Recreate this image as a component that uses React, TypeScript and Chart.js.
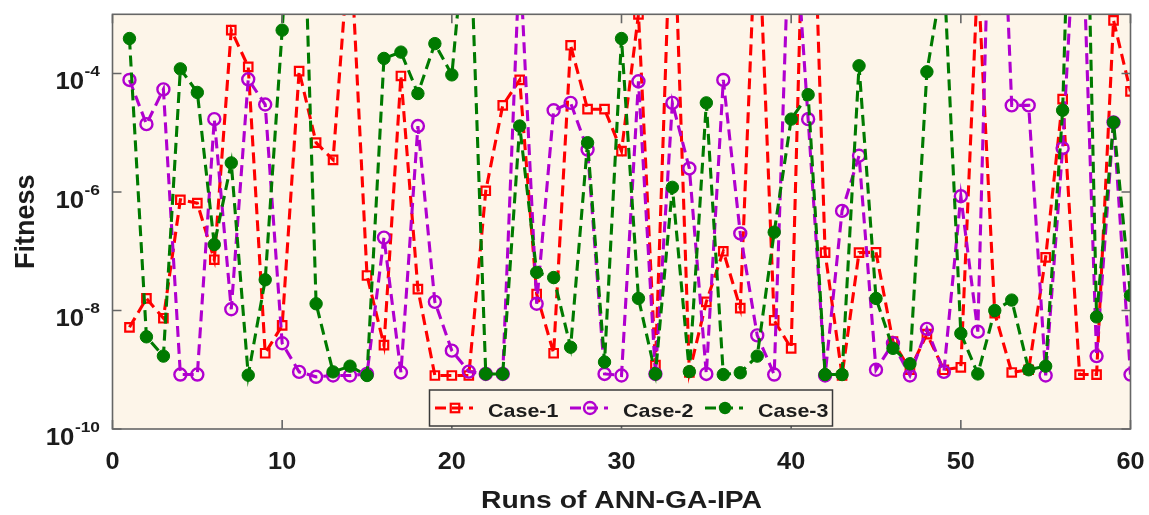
import React, { useEffect, useRef } from "react";
import { Chart, registerables } from "chart.js";

Chart.register(...registerables);

// Run index (x) and fitness of each run for the three cases (log-scale y).
const runs = [
  1, 2, 3, 4, 5, 6, 7, 8, 9, 10, 11, 12, 13, 14, 15, 16, 17, 18, 19, 20,
  21, 22, 23, 24, 25, 26, 27, 28, 29, 30, 31, 32, 33, 34, 35, 36, 37, 38, 39, 40,
  41, 42, 43, 44, 45, 46, 47, 48, 49, 50, 51, 52, 53, 54, 55, 56, 57, 58, 59, 60,
];

const case1 = [
  5.2e-9, 1.6e-8, 7.4e-9, 7.4e-7, 6.5e-7, 7.2e-8, 5.4e-4, 1.3e-4, 1.9e-9, 5.6e-9,
  1.1e-4, 6.8e-6, 3.5e-6, 2.2e-2, 3.9e-8, 2.6e-9, 9.1e-5, 2.3e-8, 8.0e-10, 8.0e-10,
  8.0e-10, 1.05e-6, 2.9e-5, 7.8e-5, 1.9e-8, 1.9e-9, 3.0e-4, 2.5e-5, 2.5e-5, 4.9e-6,
  1.0e-3, 1.2e-9, 3.0e-1, 9.0e-10, 1.4e-8, 1.0e-7, 1.1e-8, 1.2e-1, 6.8e-9, 2.3e-9,
  1.0e2, 9.5e-8, 8.0e-10, 9.5e-8, 9.6e-8, 3.0e-9, 1.0e-9, 4.0e-9, 1.0e-9, 1.1e-9,
  5.0e-3, 9.0e-9, 9.0e-10, 1.0e-9, 7.9e-8, 3.7e-5, 8.3e-10, 8.3e-10, 7.9e-4, 5.0e-5,
];

const case2 = [
  7.8e-5, 1.4e-5, 5.4e-5, 8.3e-10, 8.3e-10, 1.7e-5, 1.05e-8, 8.0e-5, 3.0e-5, 2.8e-9,
  9.2e-10, 7.6e-10, 8.0e-10, 8.0e-10, 8.5e-10, 1.7e-7, 9.0e-10, 1.3e-5, 1.4e-8, 2.1e-9,
  9.3e-10, 8.5e-10, 8.5e-10, 1.0e-2, 1.3e-8, 2.4e-5, 3.2e-5, 5.2e-6, 8.5e-10, 8.0e-10,
  7.4e-5, 8.5e-10, 3.2e-5, 2.5e-6, 8.5e-10, 7.8e-5, 2.0e-7, 3.8e-9, 8.3e-10, 3.0e-1,
  1.7e-5, 8.0e-10, 4.8e-7, 4.1e-6, 1.0e-9, 2.8e-9, 8.0e-10, 4.9e-9, 9.2e-10, 8.5e-7,
  4.4e-9, 3.0e2, 2.9e-5, 2.9e-5, 8.0e-10, 5.5e-6, 1.0, 1.7e-9, 1.5e-5, 8.3e-10,
];

const case3 = [
  3.9e-4, 3.6e-9, 1.7e-9, 1.2e-4, 4.8e-5, 1.3e-7, 3.1e-6, 8.1e-10, 3.3e-8, 5.4e-4,
  3.0e1, 1.3e-8, 9.2e-10, 1.15e-9, 8.0e-10, 1.8e-4, 2.3e-4, 4.6e-5, 3.2e-4, 9.5e-5,
  1.2e-1, 8.5e-10, 8.5e-10, 1.3e-5, 4.4e-8, 3.6e-8, 2.4e-9, 6.8e-6, 1.35e-9, 3.9e-4,
  1.6e-8, 8.5e-10, 1.2e-6, 9.3e-10, 3.2e-5, 8.3e-10, 8.9e-10, 1.7e-9, 2.1e-7, 1.7e-5,
  4.4e-5, 8.3e-10, 8.3e-10, 1.35e-4, 1.6e-8, 2.3e-9, 1.26e-9, 1.07e-4, 5.6e-3, 4.1e-9,
  8.5e-10, 1.0e-8, 1.5e-8, 1.0e-9, 1.15e-9, 2.4e-5, 1.0e5, 7.8e-9, 1.5e-5, 1.8e-8,
];

const seriesNames = ["Case-1", "Case-2", "Case-3"];

const xTickValues = [0, 10, 20, 30, 40, 50, 60];
const xTickLabels = ["0", "10", "20", "30", "40", "50", "60"];
const yTickValues = [1e-10, 1e-8, 1e-6, 1e-4];
const yTickExponents = ["-10", "-8", "-6", "-4"];

const xTitle = "Runs of ANN-GA-IPA";
const yTitle = "Fitness";

// Styling
const FONT = "'Liberation Sans', Arial, Helvetica, sans-serif";
const RED = "#FF0000";
const PURPLE = "#B000CF";
const GREEN = "#007A00";
const PLOT_BG = "#FDF5E9";
const FRAME = "#666666";
const INK = "#1c1c1c";
const DASH = [11, 6];
const LINE_W = 3.1;

const W = 1149;
const H = 515;

function wideText(
  ctx: CanvasRenderingContext2D,
  text: string,
  x: number,
  y: number,
  align: CanvasTextAlign,
  sx: number
) {
  ctx.save();
  ctx.translate(x, y);
  ctx.scale(sx, 1);
  ctx.textAlign = align;
  ctx.textBaseline = "alphabetic";
  ctx.fillText(text, 0, 0);
  ctx.restore();
}

function legendMarker(ctx: CanvasRenderingContext2D, kind: number, x: number, y: number) {
  ctx.save();
  ctx.setLineDash([]);
  if (kind === 0) {
    const s = 6 * Math.SQRT1_2;
    ctx.strokeStyle = RED;
    ctx.lineWidth = 2.2;
    ctx.strokeRect(x - s, y - s, 2 * s, 2 * s);
  } else if (kind === 1) {
    ctx.strokeStyle = PURPLE;
    ctx.lineWidth = 2.4;
    ctx.beginPath();
    ctx.arc(x, y, 6, 0, Math.PI * 2);
    ctx.stroke();
  } else {
    ctx.fillStyle = GREEN;
    ctx.beginPath();
    ctx.arc(x, y, 6.2, 0, Math.PI * 2);
    ctx.fill();
  }
  ctx.restore();
}

const decorPlugin = {
  id: "axesDecor",
  beforeDraw(chart: any) {
    const { ctx, chartArea: a } = chart;
    ctx.save();
    ctx.fillStyle = "#ffffff";
    ctx.fillRect(0, 0, chart.width, chart.height);
    ctx.fillStyle = PLOT_BG;
    ctx.fillRect(a.left, a.top, a.right - a.left, a.bottom - a.top);
    ctx.restore();
  },
  afterDatasetsDraw(chart: any) {
    const { ctx, chartArea: a } = chart;
    const xs = chart.scales.x;
    const ys = chart.scales.y;
    const tickLen = 9;

    ctx.save();
    // frame
    ctx.strokeStyle = FRAME;
    ctx.lineWidth = 1.6;
    ctx.setLineDash([]);
    ctx.strokeRect(a.left, a.top, a.right - a.left, a.bottom - a.top);

    // inward ticks
    ctx.beginPath();
    xTickValues.forEach((v) => {
      const px = xs.getPixelForValue(v);
      ctx.moveTo(px, a.bottom);
      ctx.lineTo(px, a.bottom - tickLen);
      ctx.moveTo(px, a.top);
      ctx.lineTo(px, a.top + tickLen);
    });
    yTickValues.forEach((v) => {
      const py = ys.getPixelForValue(v);
      ctx.moveTo(a.left, py);
      ctx.lineTo(a.left + tickLen, py);
      ctx.moveTo(a.right, py);
      ctx.lineTo(a.right - tickLen, py);
    });
    ctx.stroke();

    // x tick labels
    ctx.fillStyle = INK;
    ctx.font = `bold 23px ${FONT}`;
    xTickValues.forEach((v, i) => {
      wideText(ctx, xTickLabels[i], xs.getPixelForValue(v), a.bottom + 39.5, "center", 1.1);
    });

    // y tick labels: base 10 with raised exponent
    const labelRight = a.left - 12.5;
    yTickValues.forEach((v, i) => {
      const py = ys.getPixelForValue(v);
      ctx.font = `bold 15.5px ${FONT}`;
      const expW = ctx.measureText(yTickExponents[i]).width * 1.12;
      wideText(ctx, yTickExponents[i], labelRight, py + 2.5, "right", 1.12);
      ctx.font = `bold 23px ${FONT}`;
      wideText(ctx, "10", labelRight - expW - 0.5, py + 15.5, "right", 1.12);
    });

    // axis titles
    ctx.font = `bold 24px ${FONT}`;
    wideText(ctx, xTitle, (a.left + a.right) / 2, 508.3, "center", 1.18);
    ctx.save();
    ctx.font = `bold 27px ${FONT}`;
    ctx.translate(34, (a.top + a.bottom) / 2);
    ctx.rotate(-Math.PI / 2);
    ctx.scale(1, 1.05);
    ctx.textAlign = "center";
    ctx.textBaseline = "alphabetic";
    ctx.fillText(yTitle, 0, 0);
    ctx.restore();

    // legend
    const bx = 429.5, by = 390, bw = 403, bh = 36;
    ctx.fillStyle = PLOT_BG;
    ctx.fillRect(bx, by, bw, bh);
    ctx.strokeStyle = "#3a3a3a";
    ctx.lineWidth = 1.5;
    ctx.strokeRect(bx, by, bw, bh);
    const colors = [RED, PURPLE, GREEN];
    const cy = by + bh / 2;
    seriesNames.forEach((name, i) => {
      const x0 = 435 + i * 135;
      ctx.save();
      ctx.strokeStyle = colors[i];
      ctx.lineWidth = LINE_W;
      ctx.setLineDash(DASH);
      ctx.beginPath();
      ctx.moveTo(x0, cy);
      ctx.lineTo(x0 + 38, cy);
      ctx.stroke();
      ctx.restore();
      legendMarker(ctx, i, x0 + 20, cy);
      ctx.fillStyle = INK;
      ctx.font = `bold 19px ${FONT}`;
      wideText(ctx, name, x0 + 53, cy + 8.8, "left", 1.13);
    });
    ctx.restore();
  },
};

function series(values: number[]) {
  return runs.map((r, i) => ({ x: r, y: values[i] }));
}

export default function App() {
  const ref = useRef<HTMLCanvasElement>(null);

  useEffect(() => {
    const canvas = ref.current;
    if (!canvas) return;
    const chart = new Chart(canvas, {
      type: "line",
      data: {
        datasets: [
          {
            label: seriesNames[0],
            data: series(case1),
            borderColor: RED,
            borderWidth: LINE_W,
            borderDash: DASH,
            pointStyle: "rect",
            pointRadius: 6,
            pointBorderWidth: 2.2,
            pointBorderColor: RED,
            pointBackgroundColor: "rgba(0,0,0,0)",
            fill: false,
            tension: 0,
            order: 2,
          },
          {
            label: seriesNames[1],
            data: series(case2),
            borderColor: PURPLE,
            borderWidth: LINE_W,
            borderDash: DASH,
            pointStyle: "circle",
            pointRadius: 6,
            pointBorderWidth: 2.4,
            pointBorderColor: PURPLE,
            pointBackgroundColor: "rgba(0,0,0,0)",
            fill: false,
            tension: 0,
            order: 1,
          },
          {
            label: seriesNames[2],
            data: series(case3),
            borderColor: GREEN,
            borderWidth: LINE_W,
            borderDash: DASH,
            pointStyle: "circle",
            pointRadius: 6.2,
            pointBorderWidth: 1,
            pointBorderColor: GREEN,
            pointBackgroundColor: GREEN,
            fill: false,
            tension: 0,
            order: 0,
          },
        ],
      },
      options: {
        responsive: false,
        animation: false,
        devicePixelRatio: 1,
        events: [],
        layout: { padding: { left: 112.5, right: 18.5, top: 14.3, bottom: 86 } },
        plugins: { legend: { display: false }, tooltip: { enabled: false } },
        scales: {
          x: { type: "linear", min: 0, max: 60, display: false },
          y: { type: "logarithmic", min: 1e-10, max: 1e-3, display: false },
        },
      },
      plugins: [decorPlugin],
    });
    return () => chart.destroy();
  }, []);

  return (
    <div style={{ position: "absolute", left: 0, top: 0, width: W, height: H }}>
      <canvas ref={ref} width={W} height={H} style={{ display: "block", width: W, height: H }} />
    </div>
  );
}
